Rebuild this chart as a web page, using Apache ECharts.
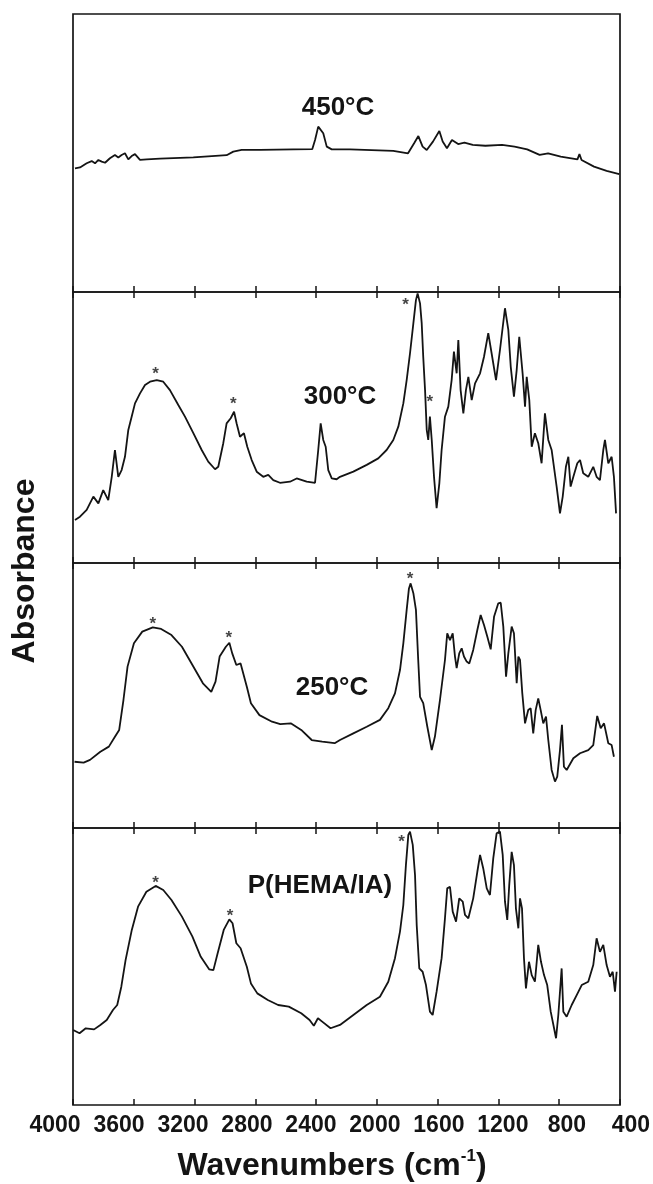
<!DOCTYPE html>
<html>
<head>
<meta charset="utf-8">
<title>FTIR spectra</title>
<script src="https://cdn.jsdelivr.net/npm/echarts@6/dist/echarts.min.js"></script>
<style>
  html, body { margin: 0; padding: 0; background: #fff; }
  #chart { width: 653px; height: 1184px; }
</style>
</head>
<body>
<div id="chart"></div>
<script>
// wavenumber ticks (cm-1)
const xTicks = [4000, 3600, 3200, 2800, 2400, 2000, 1600, 1200, 800, 400];

// 450 °C
const wn450 = [3987, 3954, 3910, 3877, 3855, 3833, 3811, 3789, 3757, 3724, 3702, 3680, 3658, 3636, 3614, 3592, 3559, 3515, 3427, 3208, 2989, 2945, 2890, 2769, 2550, 2425, 2407, 2386, 2353, 2330, 2297, 2177, 1892, 1795, 1755, 1727, 1699, 1672, 1631, 1589, 1567, 1539, 1506, 1465, 1424, 1369, 1286, 1176, 1094, 1011, 929, 873, 790, 680, 667, 653, 571, 488, 405];
const ab450 = [44.5, 44.8, 46.3, 47.1, 46.3, 47.5, 46.9, 46.5, 48.1, 49.3, 48.4, 49.3, 49.9, 47.7, 48.9, 49.6, 47.5, 47.7, 48.0, 48.4, 49.2, 50.5, 51.1, 51.1, 51.3, 51.4, 54.7, 59.5, 57.1, 52.3, 51.3, 51.3, 50.8, 49.9, 53.5, 56.1, 52.3, 51.1, 54.1, 57.9, 54.1, 51.7, 54.7, 53.2, 53.7, 52.9, 52.6, 52.9, 52.3, 51.3, 49.3, 49.9, 48.7, 47.7, 49.6, 47.5, 45.1, 43.6, 42.4];

// 300 °C
const wn300 = [3987, 3954, 3910, 3866, 3833, 3801, 3768, 3745, 3724, 3702, 3680, 3658, 3636, 3614, 3592, 3559, 3526, 3493, 3449, 3406, 3362, 3307, 3263, 3208, 3153, 3110, 3065, 3044, 3011, 2989, 2962, 2940, 2923, 2901, 2875, 2853, 2824, 2791, 2748, 2715, 2682, 2638, 2572, 2528, 2462, 2407, 2386, 2370, 2353, 2337, 2320, 2297, 2265, 2243, 2155, 2067, 1991, 1936, 1892, 1859, 1826, 1804, 1782, 1760, 1743, 1732, 1716, 1705, 1695, 1683, 1672, 1662, 1651, 1639, 1624, 1607, 1589, 1574, 1552, 1530, 1508, 1493, 1475, 1464, 1449, 1431, 1414, 1398, 1376, 1354, 1321, 1295, 1267, 1245, 1216, 1190, 1157, 1135, 1119, 1098, 1080, 1063, 1041, 1025, 1014, 997, 981, 960, 938, 916, 894, 872, 850, 817, 795, 777, 756, 740, 725, 707, 681, 663, 642, 609, 576, 554, 532, 510, 499, 477, 455, 440, 426];
const ab300 = [15.9, 17.1, 19.6, 24.5, 22.0, 26.9, 23.2, 31.8, 41.7, 31.8, 34.3, 39.2, 49.1, 54.0, 58.9, 62.6, 65.7, 66.9, 67.5, 66.9, 63.8, 58.3, 54.0, 47.9, 41.7, 37.4, 34.6, 35.5, 44.2, 51.5, 53.4, 55.8, 51.5, 46.6, 47.9, 42.9, 38.0, 33.7, 31.8, 32.5, 30.6, 29.6, 30.0, 31.2, 30.0, 29.6, 41.7, 51.5, 45.4, 42.9, 34.3, 31.2, 30.9, 31.8, 33.7, 36.2, 38.6, 41.7, 45.4, 50.3, 58.9, 67.5, 77.4, 88.4, 97.0, 99.5, 95.8, 88.4, 76.1, 63.8, 49.1, 45.4, 54.0, 45.4, 31.8, 20.2, 29.4, 41.7, 54.0, 57.7, 67.5, 78.0, 70.0, 82.3, 63.8, 55.2, 63.8, 68.7, 60.1, 66.3, 70.0, 76.1, 84.8, 77.4, 67.5, 78.6, 94.0, 86.0, 72.4, 61.4, 71.2, 83.5, 70.0, 57.7, 68.7, 60.1, 42.9, 47.9, 44.2, 36.8, 55.2, 45.4, 41.7, 28.2, 18.3, 24.5, 35.5, 39.2, 28.2, 31.8, 36.8, 38.0, 33.1, 31.8, 35.5, 31.8, 30.6, 41.7, 45.4, 36.8, 39.2, 31.8, 18.3];

// 250 °C
const wn250 = [3990, 3930, 3888, 3820, 3764, 3723, 3696, 3668, 3641, 3599, 3544, 3475, 3420, 3352, 3283, 3214, 3145, 3090, 3062, 3035, 2994, 2971, 2952, 2925, 2897, 2856, 2829, 2773, 2690, 2636, 2567, 2498, 2429, 2360, 2278, 2243, 2155, 2067, 1980, 1925, 1881, 1848, 1826, 1804, 1789, 1778, 1760, 1743, 1728, 1716, 1695, 1668, 1639, 1618, 1585, 1552, 1537, 1519, 1501, 1486, 1475, 1458, 1442, 1427, 1409, 1392, 1366, 1339, 1317, 1295, 1273, 1251, 1229, 1201, 1185, 1168, 1150, 1135, 1113, 1098, 1080, 1069, 1058, 1043, 1025, 1004, 988, 971, 955, 938, 922, 905, 887, 872, 850, 828, 813, 795, 782, 769, 751, 707, 663, 609, 576, 550, 527, 505, 477, 455, 440];
const ab250 = [25.0, 24.7, 25.7, 28.8, 30.7, 34.5, 37.0, 48.3, 60.9, 69.7, 74.1, 75.7, 75.1, 72.8, 68.4, 61.5, 54.6, 51.4, 55.2, 64.7, 68.4, 69.9, 65.9, 61.5, 62.1, 53.3, 47.1, 42.6, 40.1, 39.2, 39.5, 37.0, 33.2, 32.6, 32.0, 33.2, 35.7, 38.2, 40.8, 45.2, 50.8, 59.6, 69.7, 82.3, 90.4, 92.3, 88.6, 82.3, 63.4, 49.5, 47.1, 38.2, 29.4, 34.5, 48.3, 63.4, 73.5, 70.9, 73.5, 64.7, 60.3, 65.9, 67.8, 64.7, 62.8, 62.1, 67.2, 74.7, 80.4, 76.6, 72.2, 67.4, 79.7, 84.8, 85.0, 76.0, 57.1, 65.9, 76.0, 73.5, 54.6, 64.7, 63.4, 50.8, 39.5, 44.5, 45.2, 35.7, 44.5, 48.9, 44.5, 39.5, 42.0, 33.2, 21.9, 17.5, 19.4, 29.4, 38.9, 23.1, 21.9, 26.3, 28.2, 29.4, 31.3, 42.3, 37.6, 39.5, 32.0, 31.3, 26.9];

// P(HEMA/IA)
const wnPoly = [3999, 3957, 3916, 3861, 3820, 3778, 3737, 3709, 3682, 3654, 3613, 3572, 3517, 3456, 3406, 3352, 3283, 3214, 3159, 3104, 3076, 3048, 3008, 2971, 2950, 2925, 2897, 2856, 2829, 2787, 2718, 2650, 2580, 2498, 2443, 2415, 2388, 2360, 2305, 2243, 2155, 2067, 1980, 1925, 1881, 1848, 1826, 1809, 1793, 1782, 1764, 1749, 1738, 1721, 1699, 1677, 1651, 1633, 1607, 1574, 1552, 1537, 1519, 1501, 1479, 1458, 1435, 1420, 1398, 1366, 1339, 1321, 1300, 1277, 1256, 1234, 1212, 1190, 1172, 1157, 1142, 1129, 1113, 1098, 1085, 1069, 1058, 1045, 1032, 1019, 999, 981, 960, 938, 920, 900, 879, 856, 834, 821, 806, 795, 784, 773, 751, 718, 685, 652, 609, 576, 554, 532, 510, 488, 466, 448, 433, 422];
const abPoly = [27.1, 25.9, 27.7, 27.3, 28.9, 30.7, 34.3, 36.1, 42.7, 52.3, 63.2, 71.6, 77.0, 79.1, 77.6, 74.0, 68.0, 60.8, 53.5, 49.0, 48.7, 54.8, 63.2, 67.0, 65.6, 58.4, 56.6, 49.9, 43.9, 40.3, 37.9, 36.1, 35.5, 33.1, 30.7, 28.6, 31.3, 30.1, 27.7, 28.9, 32.5, 36.1, 39.1, 44.5, 53.0, 62.6, 72.2, 86.6, 97.5, 98.7, 93.9, 83.0, 65.0, 49.3, 48.1, 43.3, 33.7, 32.5, 40.9, 53.0, 67.4, 78.2, 78.8, 69.8, 66.2, 74.6, 73.4, 68.6, 67.4, 74.6, 84.2, 90.3, 85.4, 78.2, 75.8, 89.1, 98.1, 98.7, 90.3, 73.4, 66.8, 79.4, 91.4, 86.6, 71.0, 63.8, 74.6, 71.0, 53.0, 42.1, 51.7, 46.9, 44.5, 57.8, 51.7, 46.9, 43.3, 33.7, 27.7, 24.1, 32.5, 40.9, 49.3, 33.7, 31.9, 36.1, 39.7, 43.3, 44.5, 50.5, 60.2, 55.3, 57.8, 50.5, 46.3, 48.1, 40.9, 48.1];

// peak markers (*) : [wavenumber, absorbance]
const stars300 = [[3456, 71.6], [2945, 60.4], [1811, 97.0], [1651, 61.1]];
const stars250 = [[3475, 78.9], [2974, 73.6], [1782, 95.8]];
const starsPoly = [[3456, 81.9], [2967, 70.0], [1837, 96.5]];

const panelNames = ["450°C", "300°C", "250°C", "P(HEMA/IA)"];

const FONT = "Liberation Sans, Arial, sans-serif";
const INK = "#141414";

const pair = (wn, ab) => wn.map((w, i) => [w, ab[i]]);

const chart = echarts.init(document.getElementById("chart"));

const tops = [14, 292, 563, 828];
const heights = [278, 271, 265, 277];
const spectra = [pair(wn450, ab450), pair(wn300, ab300), pair(wn250, ab250), pair(wnPoly, abPoly)];
const stars = [[], stars300, stars250, starsPoly];
const labelPos = [[338, 108], [340, 397], [332, 688], [320, 886]];

const grids = [];
const xAxes = [];
const yAxes = [];
const series = [];

tops.forEach((top, i) => {
  grids.push({
    left: 73, right: 33, top: top, height: heights[i],
    show: true, borderColor: INK, borderWidth: 1.7, backgroundColor: "transparent",
  });
  const baseX = {
    type: "value", gridIndex: i, min: 400, max: 4000, interval: 400, inverse: true,
    axisLine: { show: false },
    axisTick: { show: true, inside: true, length: 6, lineStyle: { color: INK, width: 1.5 } },
    axisLabel: { show: false },
    splitLine: { show: false },
  };
  xAxes.push(Object.assign({}, baseX, { position: "bottom" }));
  if (i > 0) xAxes.push(Object.assign({}, baseX, { position: "top" }));
  yAxes.push({
    type: "value", gridIndex: i, min: 0, max: 100,
    axisLine: { show: false }, axisTick: { show: false },
    axisLabel: { show: false }, splitLine: { show: false },
  });
});

// separate strip that only carries the tick labels (spread a bit wider than the frame, as in the figure)
grids.push({ left: 55, right: 16, top: 1105, height: 1 });
xAxes.push({
  type: "value", gridIndex: 4, min: 400, max: 4000, interval: 400, inverse: true,
  axisLine: { show: false }, axisTick: { show: false }, splitLine: { show: false },
  axisLabel: {
    show: true, margin: 8, color: INK, fontFamily: FONT, fontWeight: "bold", fontSize: 23,
    showMinLabel: true, showMaxLabel: true, hideOverlap: false,
    formatter: (v) => (xTicks.indexOf(v) >= 0 ? String(v) : ""),
  },
});
yAxes.push({ type: "value", gridIndex: 4, show: false });

// map each grid to its bottom x axis index
let axisIdx = 0;
const bottomAxis = [];
tops.forEach((t, i) => {
  bottomAxis.push(axisIdx);
  axisIdx += i > 0 ? 2 : 1;
});

spectra.forEach((data, i) => {
  series.push({
    type: "line", xAxisIndex: bottomAxis[i], yAxisIndex: i, data: data,
    showSymbol: false, symbol: "none", smooth: false, silent: true,
    lineStyle: { color: INK, width: 1.8 },
  });
  if (stars[i].length) {
    series.push({
      type: "scatter", xAxisIndex: bottomAxis[i], yAxisIndex: i, data: stars[i],
      symbolSize: 1, itemStyle: { color: "transparent" }, silent: true,
      label: {
        show: true, position: "inside", formatter: "*", offset: [0, 5],
        color: INK, fontFamily: FONT, fontWeight: "bold", fontSize: 17,
      },
    });
  }
});

const graphics = panelNames.map((name, i) => ({
  type: "text", x: labelPos[i][0], y: labelPos[i][1],
  style: {
    text: name, fill: INK, font: "bold 26px " + FONT,
    textAlign: "center", textVerticalAlign: "middle",
  },
}));

graphics.push({
  type: "text", x: 25, y: 571, rotation: Math.PI / 2,
  style: {
    text: "Absorbance", fill: INK, font: "bold 32px " + FONT,
    textAlign: "center", textVerticalAlign: "middle",
  },
});

graphics.push({
  type: "text", x: 332, y: 1166,
  style: {
    text: "{a|Wavenumbers (cm}{s|-1}{a|)}",
    textAlign: "center", textVerticalAlign: "middle",
    rich: {
      a: { fontFamily: FONT, fontWeight: "bold", fontSize: 32, lineHeight: 36, fill: INK, color: INK },
      s: { fontFamily: FONT, fontWeight: "bold", fontSize: 17, lineHeight: 18, verticalAlign: "top", fill: INK, color: INK },
    },
  },
});

const option = {
  animation: false,
  backgroundColor: "#fff",
  grid: grids,
  xAxis: xAxes,
  yAxis: yAxes,
  series: series,
  graphic: graphics,
};

chart.setOption(option);
</script>
</body>
</html>
